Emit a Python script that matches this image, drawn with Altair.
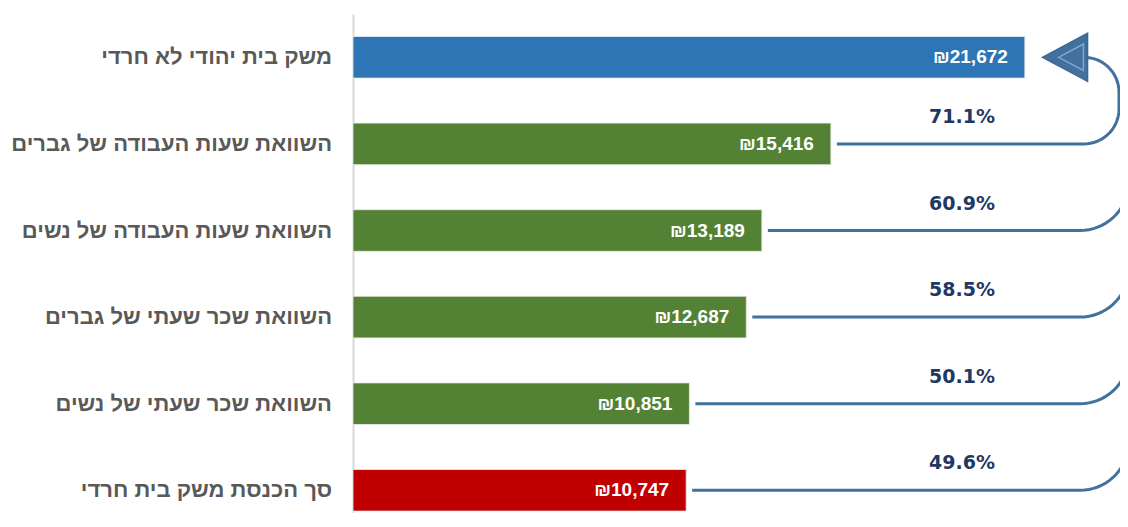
import altair as alt
import pandas as pd
import numpy as np

# ---------------- data ----------------
categories = [
    "משק בית יהודי לא חרדי",
    "השוואת שעות העבודה של גברים",
    "השוואת שעות העבודה של נשים",
    "השוואת שכר שעתי של גברים",
    "השוואת שכר שעתי של נשים",
    "סך הכנסת משק בית חרדי",
]
values = [21672, 15416, 13189, 12687, 10851, 10747]
bar_colors = ["#2E75B6", "#548235", "#548235", "#548235", "#548235", "#C00000"]
percent_labels = ["", "71.1%", "60.9%", "58.5%", "50.1%", "49.6%"]

# ---------------- layout constants ----------------
W, H = 767, 499            # plot area in px
PXU = 0.031                # px per value unit
X_MAX = W / PXU            # x domain
STEP = 86.6                # px per category row
Y_TOP = -0.5
Y_BOTTOM = Y_TOP + H / STEP
BAR_HALF = 20.8 / STEP     # half bar thickness in row units
LINE_COLOR = "#41719C"

# ---------------- tables ----------------
bars = pd.DataFrame({
    "cat": categories,
    "idx": list(range(len(categories))),
    "value": values,
    "color": bar_colors,
})
bars["zero"] = 0
bars["y0"] = bars["idx"] - BAR_HALF
bars["y1"] = bars["idx"] + BAR_HALF
bars["label"] = ["₪" + f"{v:,}" for v in values]

pct = bars.iloc[1:].copy()
pct["pct"] = percent_labels[1:]
pct["ypct"] = pct["idx"] - 27 / STEP

# connector paths (px geometry converted to data units through the scales)
conn_rows = []
t = np.linspace(0, np.pi / 2, 18)
TOP_XH, TOP_R = 731, 35
for i in range(1, len(values)):
    x0 = values[i] * PXU + 6
    pts = [(x0, 0.0)]
    if i == 1:
        xh, r = TOP_XH, TOP_R
        pts.append((xh, 0.0))
        pts += [(xh + r * np.sin(a), -r * (1 - np.cos(a))) for a in t]
        pts += [(xh + r * np.cos(a), -STEP + r - r * np.sin(a)) for a in t]
    else:
        xh, r = 727, 49
        pts.append((xh, 0.0))
        pts += [(xh + r * np.sin(a), -r * (1 - np.cos(a))) for a in t]
    for k, (px, py) in enumerate(pts):
        conn_rows.append({"row": i, "seq": k, "x": px / PXU, "y": i + py / STEP})
conn = pd.DataFrame(conn_rows)

arrow = pd.DataFrame({"x": [(TOP_XH - 19) / PXU], "y": [0]})
arrow_inner = pd.DataFrame({"x": [(TOP_XH - 13) / PXU], "y": [0]})

ARROW_PATH = "M-0.94,0L0.94,-1L0.94,1Z"

# ---------------- encodings ----------------
xscale = alt.Scale(domain=[0, X_MAX], nice=False, zero=False)
yscale = alt.Scale(domain=[Y_TOP, Y_BOTTOM], nice=False, zero=False, reverse=True)
yaxis = alt.Axis(labels=False, ticks=False, grid=False, title=None,
                 domainColor="#D9D9D9", domainWidth=2)


def X(f):
    return alt.X(f, type="quantitative", scale=xscale, axis=None)


def Y(f):
    return alt.Y(f, type="quantitative", scale=yscale, axis=yaxis)


bar_layer = alt.Chart(bars).mark_bar(stroke="#EAEAEA", strokeWidth=0.8).encode(
    x=X("zero"), x2="value", y=Y("y0"), y2="y1",
    color=alt.Color("color:N", scale=None),
)

value_text = alt.Chart(bars).mark_text(
    align="right", baseline="middle", dx=-17, color="white",
    font="Liberation Sans", fontWeight="bold", fontSize=19,
).encode(x=X("value"), y=Y("idx"), text="label:N")

cat_text = alt.Chart(bars).mark_text(
    align="right", baseline="middle", color="#595959",
    font="Liberation Sans", fontWeight="bold", fontSize=22,
).encode(x=alt.value(-21), y=Y("idx"), text="cat:N")

lines = alt.Chart(conn).mark_line(color=LINE_COLOR, strokeWidth=3, strokeCap="butt").encode(
    x=X("x"), y=Y("y"), detail="row:N", order="seq:Q",
)

arrow_layer = alt.Chart(arrow).mark_point(
    shape=ARROW_PATH, size=2304, filled=True, fill=LINE_COLOR, opacity=1,
    stroke="#3A6892", strokeWidth=1.5,
).encode(x=X("x"), y=Y("y"))

arrow_inner_layer = alt.Chart(arrow_inner).mark_point(
    shape=ARROW_PATH, size=700, filled=False, stroke="#7FA7D4", strokeWidth=1.5, opacity=1,
).encode(x=X("x"), y=Y("y"))

pct_text = alt.Chart(pct).mark_text(
    align="center", baseline="middle", color="#1F3864",
    font="DejaVu Sans", fontWeight="bold", fontSize=19,
).encode(x=alt.value(609), y=Y("ypct"), text="pct:N")

chart = alt.layer(
    bar_layer, lines, arrow_layer, arrow_inner_layer, value_text, cat_text, pct_text
).properties(
    width=W, height=H,
    autosize=alt.AutoSizeParams(type="none"),
    padding={"left": 345, "top": 6, "right": 0, "bottom": 0},
    background="white",
).configure_view(stroke=None)

chart.save("out.html", embed_options={"renderer": "svg", "actions": False})
